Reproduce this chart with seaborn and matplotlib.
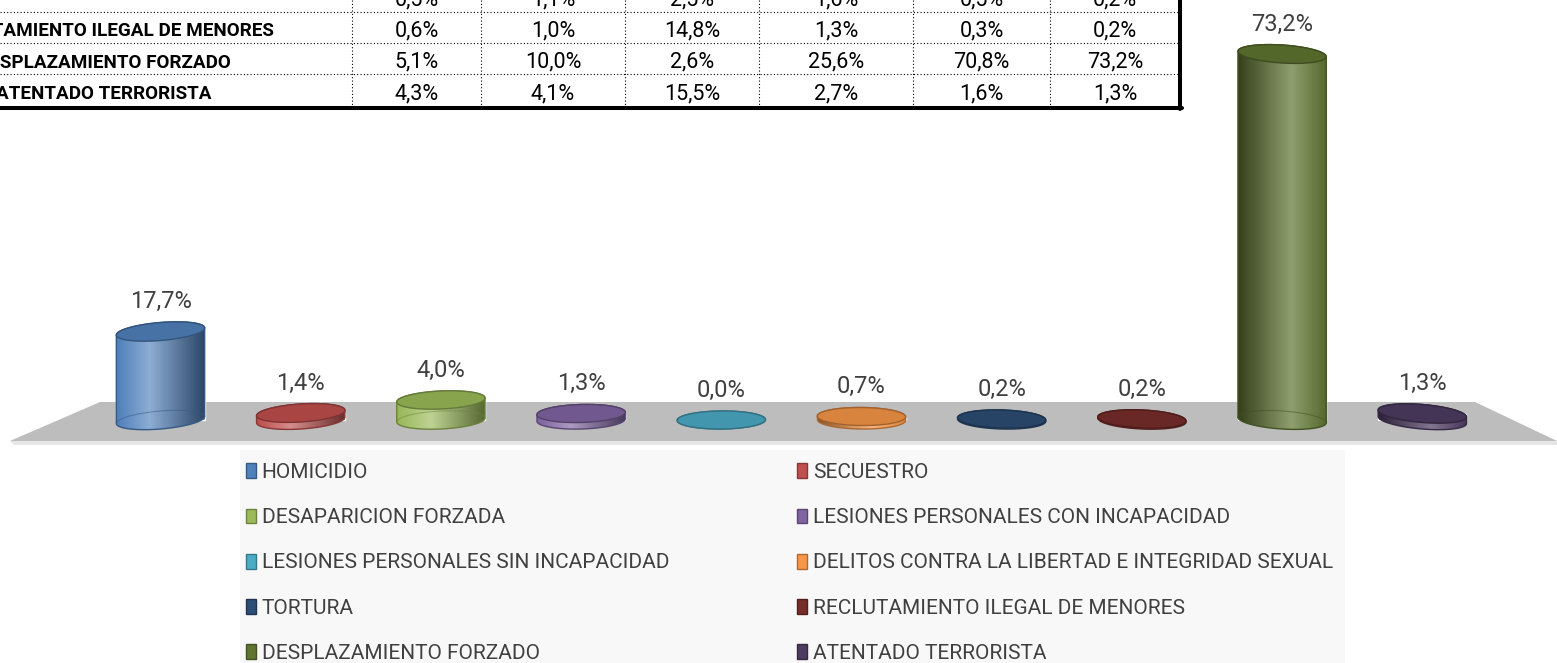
import matplotlib
matplotlib.use("Agg")
import matplotlib.pyplot as plt
import matplotlib.colors as mcolors
from matplotlib.patches import Polygon, Patch, Rectangle
from matplotlib.lines import Line2D
import seaborn as sns
import numpy as np

## Datos del grafico
categorias = ["HOMICIDIO", "SECUESTRO", "DESAPARICION FORZADA",
              "LESIONES PERSONALES CON INCAPACIDAD", "LESIONES PERSONALES SIN INCAPACIDAD",
              "DELITOS CONTRA LA LIBERTAD E INTEGRIDAD SEXUAL", "TORTURA",
              "RECLUTAMIENTO ILEGAL DE MENORES", "DESPLAZAMIENTO FORZADO", "ATENTADO TERRORISTA"]
porcentajes = [17.7, 1.4, 4.0, 1.3, 0.0, 0.7, 0.2, 0.2, 73.2, 1.3]
colores = ["#4F81BD", "#C0504D", "#9BBB59", "#8064A2", "#4BACC6",
           "#F79646", "#2C4D75", "#772C2A", "#5F7530", "#4D3B62"]

## Fragmento visible de la tabla
filas_tabla = ["", "RECLUTAMIENTO ILEGAL DE MENORES", "DESPLAZAMIENTO FORZADO", "ATENTADO TERRORISTA"]
valores_tabla = [
    ["0,5%", "1,1%", "2,5%", "1,6%", "0,5%", "0,2%"],
    ["0,6%", "1,0%", "14,8%", "1,3%", "0,3%", "0,2%"],
    ["5,1%", "10,0%", "2,6%", "25,6%", "70,8%", "73,2%"],
    ["4,3%", "4,1%", "15,5%", "2,7%", "1,6%", "1,3%"],
]

sns.set_style("white")
plt.rcParams["font.family"] = ["Roboto", "DejaVu Sans"]

W, H = 1557, 663
fig = plt.figure(figsize=(W / 100, H / 100), dpi=100)


def fx(px):
    return px / W


def fy(py):
    return 1 - py / H


# pixel -> data en el eje del grafico
X0, DX, Y0, DY = 160.5, 140.2, 420.0, 5.0


def dx(px):
    return (px - X0) / DX


def dy(py):
    return (Y0 - py) / DY


def shade(c, f):
    return tuple(np.array(mcolors.to_rgb(c)) * f)


def tint(c, f):
    rgb = np.array(mcolors.to_rgb(c))
    return tuple(rgb + (1 - rgb) * f)


ax = fig.add_axes([0, fy(445), 1, 445 / H])
ax.set_axis_off()

## Barras (cuerpo de los cilindros)
sns.barplot(x=categorias, y=porcentajes, hue=categorias, order=categorias, hue_order=categorias,
            palette=colores, saturation=1, width=0.63, legend=False, ax=ax, zorder=1)
bars = list(ax.patches)

## Piso gris
ax.add_patch(Polygon([(dx(100), dy(402)), (dx(1475), dy(402)), (dx(W), dy(441)), (dx(10), dy(441))],
                     closed=True, facecolor="#bdbdbd", edgecolor="none", zorder=0.5))
ax.add_patch(Polygon([(dx(10), dy(441)), (dx(W), dy(441)), (dx(W), dy(445)), (dx(14), dy(445))],
                     closed=True, facecolor="#e6e6e6", edgecolor="none", zorder=0.5))

b = 1.8
t_low = np.linspace(np.pi, 2 * np.pi, 60)
t_up = np.linspace(0, np.pi, 60)
t_all = np.linspace(0, 2 * np.pi, 120)
N = 120
s = np.linspace(0, 1, N)

for p, c, v in zip(bars, colores, porcentajes):
    x0, w, h = p.get_x(), p.get_width(), p.get_height()
    cx = x0 + w / 2
    a = w / 2
    k = -0.5 * (cx - 4.5)
    base = np.column_stack([cx + a * np.cos(t_low), b * np.sin(t_low) + k * a * np.cos(t_low)])
    top = np.column_stack([cx + a * np.cos(t_up), h + b * np.sin(t_up) + k * a * np.cos(t_up)])
    sil = Polygon(np.vstack([base, top]), closed=True, facecolor="none",
                  edgecolor=shade(c, 0.7), lw=1.0, zorder=3)
    ax.add_patch(sil)

    if cx < 4.5:
        stops = [0, 0.38, 1]
        cols = [shade(c, 0.98), tint(c, 0.35), shade(c, 0.55)]
    else:
        stops = [0, 0.6, 1]
        cols = [shade(c, 0.55), tint(c, 0.3), shade(c, 0.9)]
    grad = np.zeros((1, N, 3))
    for ch in range(3):
        grad[0, :, ch] = np.interp(s, stops, [col[ch] for col in cols])
    im = ax.imshow(grad, extent=[cx - a, cx + a, -b - abs(k) * a, h + b + abs(k) * a],
                   aspect="auto", origin="lower", interpolation="bilinear", zorder=2)
    im.set_clip_path(sil)

    if h > 2 * b:
        ax.plot(cx + a * np.cos(t_up), b * np.sin(t_up) + k * a * np.cos(t_up),
                color=shade(c, 0.7), lw=0.8, alpha=0.5, zorder=3)

    cara = np.column_stack([cx + a * np.cos(t_all), h + b * np.sin(t_all) + k * a * np.cos(t_all)])
    ax.add_patch(Polygon(cara, closed=True, facecolor=shade(c, 0.88), edgecolor=shade(c, 0.65),
                         lw=1.0, zorder=4))

    ax.text(cx, h + 6.0, f"{v:.1f}%".replace(".", ","), ha="center", va="center",
            fontsize=17, color="#404040", zorder=5)

ax.set_xlim(dx(0), dx(W))
ax.set_ylim(dy(445), dy(0))

## Tabla
col_x = [352, 481, 625, 759, 913, 1050, 1180]
base_y = [5, 36, 67.5, 99]
for yy in [12, 42.5, 74]:
    fig.add_artist(Line2D([fx(0), fx(1180)], [fy(yy), fy(yy)], transform=fig.transFigure,
                          color="black", lw=0.8, linestyle=(0, (1, 2))))
for xx in col_x[:-1]:
    fig.add_artist(Line2D([fx(xx), fx(xx)], [fy(0), fy(107)], transform=fig.transFigure,
                          color="black", lw=0.8, linestyle=(0, (1, 2))))
fig.add_artist(Line2D([fx(1180), fx(1180)], [fy(0), fy(109)], transform=fig.transFigure,
                      color="black", lw=2.9))
fig.add_artist(Line2D([fx(0), fx(1182)], [fy(107.5), fy(107.5)], transform=fig.transFigure,
                      color="black", lw=2.9))
for fila, vals, yb in zip(filas_tabla, valores_tabla, base_y):
    fig.text(fx(104), fy(yb), fila, ha="center", va="baseline", fontsize=13.6,
             fontweight="bold", color="black")
    for j, val in enumerate(vals):
        xc = (col_x[j] + col_x[j + 1]) / 2
        fig.text(fx(xc), fy(yb), val, ha="center", va="baseline", fontsize=15.5, color="black")

## Leyenda
fig.add_artist(Rectangle((fx(240), 0), fx(1345) - fx(240), fy(450), transform=fig.transFigure,
                         facecolor="#f8f8f8", edgecolor="none", zorder=0))
handles = [Patch(facecolor=c, edgecolor=shade(c, 0.7), lw=1) for c in colores]
izq = [0, 2, 4, 6, 8]
der = [1, 3, 5, 7, 9]
for idx, xl in [(izq, 246), (der, 797)]:
    fig.legend([handles[i] for i in idx], [categorias[i] for i in idx], loc="upper left",
               bbox_to_anchor=(fx(xl), fy(463)), frameon=False, fontsize=15,
               labelcolor="#404040", handlelength=0.5, handleheight=0.7, handletextpad=0.25,
               labelspacing=1.26, borderpad=0, borderaxespad=0)

fig.savefig("out.png", dpi=100)
